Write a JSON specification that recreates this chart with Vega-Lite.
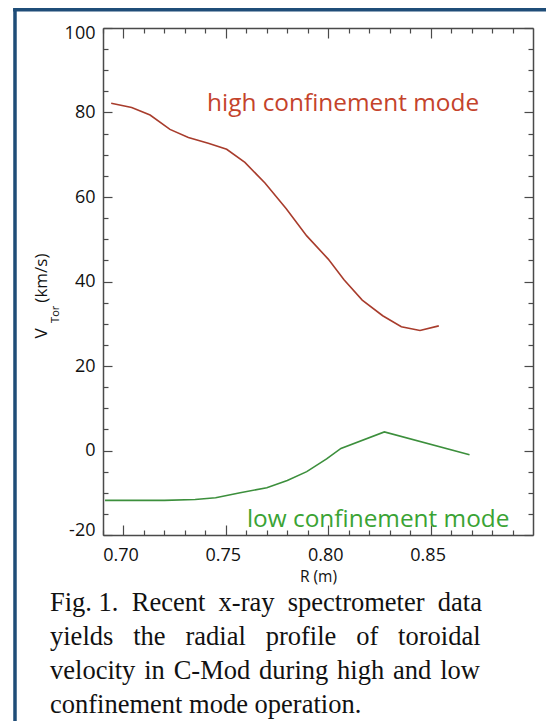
{
  "$schema": "https://vega.github.io/schema/vega-lite/v6.json",
  "width": 430,
  "height": 507,
  "autosize": {"type": "none"},
  "padding": {"left": 103, "top": 28, "right": 13, "bottom": 186},
  "background": "white",
  "config": {
    "view": {"stroke": null},
    "axis": {
      "grid": false,
      "labelFont": "Open Sans",
      "titleFont": "Open Sans",
      "domainColor": "#4a4a4a",
      "tickColor": "#4a4a4a",
      "domainWidth": 1.5,
      "tickWidth": 1.2,
      "labelColor": "#111111",
      "titleColor": "#111111",
      "titleFontWeight": "normal"
    }
  },
  "resolve": {"axis": {"x": "independent", "y": "independent"}},
  "layer": [
    {
      "data": {"values": [
        {"R": 0.694, "V": 82.2}, {"R": 0.704, "V": 81.2}, {"R": 0.713, "V": 79.4},
        {"R": 0.7227, "V": 76.0}, {"R": 0.7317, "V": 74.1}, {"R": 0.7414, "V": 72.7},
        {"R": 0.7504, "V": 71.3}, {"R": 0.7593, "V": 68.2}, {"R": 0.7691, "V": 63.3},
        {"R": 0.7795, "V": 57.2}, {"R": 0.7895, "V": 50.8}, {"R": 0.8, "V": 45.3},
        {"R": 0.8077, "V": 40.4}, {"R": 0.8166, "V": 35.6}, {"R": 0.8266, "V": 31.9},
        {"R": 0.8357, "V": 29.3}, {"R": 0.8448, "V": 28.4}, {"R": 0.854, "V": 29.5}
      ]},
      "mark": {"type": "line", "color": "#a83c2c", "strokeWidth": 1.6},
      "encoding": {
        "x": {"field": "R", "type": "quantitative", "scale": {"domain": [0.69, 0.9], "nice": false, "zero": false},
          "axis": {"orient": "bottom", "values": [0.7, 0.75, 0.8, 0.85], "format": ".2f", "tickSize": -10, "labelPadding": 21, "labelOffset": -3, "labelFontSize": 18, "labelFlush": false, "title": "R (m)", "titleFontSize": 15.5, "titlePadding": 5}},
        "y": {"field": "V", "type": "quantitative", "scale": {"domain": [-20, 100], "nice": false, "zero": false},
          "axis": {"orient": "left", "values": [-20, 0, 20, 40, 60, 80, 100], "labelExpr": "'' + datum.value", "tickSize": -9, "labelPadding": 17, "labelFontSize": 18, "labelFlush": true, "labelFlushOffset": 4, "title": null}}
      }
    },
    {
      "data": {"values": [
        {"R": 0.691, "V": -11.8}, {"R": 0.705, "V": -11.8}, {"R": 0.72, "V": -11.8},
        {"R": 0.735, "V": -11.6}, {"R": 0.745, "V": -11.2}, {"R": 0.757, "V": -10.0},
        {"R": 0.77, "V": -8.8}, {"R": 0.78, "V": -7.1}, {"R": 0.7895, "V": -5.0},
        {"R": 0.7992, "V": -2.0}, {"R": 0.8062, "V": 0.5}, {"R": 0.8274, "V": 4.4},
        {"R": 0.869, "V": -1.0}
      ]},
      "mark": {"type": "line", "color": "#3c8f3c", "strokeWidth": 1.6},
      "encoding": {
        "x": {"field": "R", "type": "quantitative", "scale": {"domain": [0.69, 0.9], "nice": false, "zero": false},
          "axis": {"orient": "bottom", "values": [0.69, 0.71, 0.72, 0.73, 0.74, 0.76, 0.77, 0.78, 0.79, 0.81, 0.82, 0.83, 0.84, 0.86, 0.87, 0.88, 0.89], "labels": false, "domain": false, "tickSize": -5, "title": null}},
        "y": {"field": "V", "type": "quantitative", "scale": {"domain": [-20, 100], "nice": false, "zero": false},
          "axis": {"orient": "left", "values": [-15, -10, -5, 5, 10, 15, 25, 30, 35, 45, 50, 55, 65, 70, 75, 85, 90, 95], "labels": false, "domain": false, "tickSize": -5, "title": null}}
      }
    },
    {
      "data": {"values": [{}]},
      "mark": {"type": "text", "text": "high confinement mode", "font": "Open Sans", "fontSize": 24.4, "color": "#c4432b", "align": "left", "baseline": "alphabetic"},
      "encoding": {
        "x": {"datum": 0.7408, "type": "quantitative", "scale": {"domain": [0.69, 0.9], "nice": false, "zero": false},
          "axis": {"orient": "top", "values": [0.7, 0.75, 0.8, 0.85], "labels": false, "domain": true, "tickSize": -10, "title": null}},
        "y": {"datum": 80.4, "type": "quantitative", "scale": {"domain": [-20, 100], "nice": false, "zero": false},
          "axis": {"orient": "right", "values": [-20, 0, 20, 40, 60, 80, 100], "labels": false, "domain": true, "tickSize": -9, "title": null}}
      }
    },
    {
      "data": {"values": [{}]},
      "mark": {"type": "text", "text": "low confinement mode", "font": "Open Sans", "fontSize": 24.4, "color": "#3aa334", "align": "left", "baseline": "alphabetic"},
      "encoding": {
        "x": {"datum": 0.7603, "type": "quantitative", "scale": {"domain": [0.69, 0.9], "nice": false, "zero": false},
          "axis": {"orient": "top", "values": [0.69, 0.71, 0.72, 0.73, 0.74, 0.76, 0.77, 0.78, 0.79, 0.81, 0.82, 0.83, 0.84, 0.86, 0.87, 0.88, 0.89], "labels": false, "domain": false, "tickSize": -5, "title": null}},
        "y": {"datum": -18.18, "type": "quantitative", "scale": {"domain": [-20, 100], "nice": false, "zero": false},
          "axis": {"orient": "right", "values": [-15, -10, -5, 5, 10, 15, 25, 30, 35, 45, 50, 55, 65, 70, 75, 85, 90, 95], "labels": false, "domain": false, "tickSize": -5, "title": null}}
      }
    },
    {
      "data": {"values": [{}]},
      "mark": {"type": "text", "text": "V", "font": "Open Sans", "fontSize": 17, "color": "#111111", "angle": 270, "align": "left", "baseline": "alphabetic"},
      "encoding": {
        "x": {"datum": 0.66265, "type": "quantitative", "scale": {"domain": [0.69, 0.9], "nice": false, "zero": false}, "axis": null},
        "y": {"datum": 26.51, "type": "quantitative", "scale": {"domain": [-20, 100], "nice": false, "zero": false}, "axis": null}
      }
    },
    {
      "data": {"values": [{}]},
      "mark": {"type": "text", "text": "Tor", "font": "Open Sans", "fontSize": 11, "color": "#111111", "angle": 270, "align": "left", "baseline": "alphabetic"},
      "encoding": {
        "x": {"datum": 0.66851, "type": "quantitative", "scale": {"domain": [0.69, 0.9], "nice": false, "zero": false}, "axis": null},
        "y": {"datum": 30.2, "type": "quantitative", "scale": {"domain": [-20, 100], "nice": false, "zero": false}, "axis": null}
      }
    },
    {
      "data": {"values": [{}]},
      "mark": {"type": "text", "text": "(km/s)", "font": "Open Sans", "fontSize": 17, "color": "#111111", "angle": 270, "align": "left", "baseline": "alphabetic"},
      "encoding": {
        "x": {"datum": 0.66265, "type": "quantitative", "scale": {"domain": [0.69, 0.9], "nice": false, "zero": false}, "axis": null},
        "y": {"datum": 35.0, "type": "quantitative", "scale": {"domain": [-20, 100], "nice": false, "zero": false}, "axis": null}
      }
    },
    {
      "data": {"values": [{}]},
      "mark": {"type": "rule", "color": "#1f4d78", "strokeWidth": 3.5},
      "encoding": {
        "x": {"datum": 0.64702, "type": "quantitative", "scale": {"domain": [0.69, 0.9], "nice": false, "zero": false}, "axis": null},
        "y": {"datum": 104.6, "type": "quantitative", "scale": {"domain": [-20, 100], "nice": false, "zero": false}, "axis": null},
        "y2": {"datum": -70}
      }
    },
    {
      "data": {"values": [{}]},
      "mark": {"type": "rule", "color": "#1f4d78", "strokeWidth": 3.5},
      "encoding": {
        "x": {"datum": 0.6461, "type": "quantitative", "scale": {"domain": [0.69, 0.9], "nice": false, "zero": false}, "axis": null},
        "x2": {"datum": 0.95},
        "y": {"datum": 104.3, "type": "quantitative", "scale": {"domain": [-20, 100], "nice": false, "zero": false}, "axis": null}
      }
    },
    {
      "data": {"values": [{}]},
      "mark": {"type": "text", "text": ["Fig. 1. \u2005Recent \u2005x-ray \u2005spectrometer \u2005data", "yields \u2002the \u2002radial \u2002profile \u2002of \u2002toroidal", "velocity \u200ain \u200aC-Mod \u200aduring \u200ahigh \u200aand \u200alow", "confinement mode operation."], "font": "Liberation Serif", "fontSize": 26.5, "lineHeight": 34, "color": "#111111", "align": "left", "baseline": "alphabetic"},
      "encoding": {
        "x": {"datum": 0.66412, "type": "quantitative", "scale": {"domain": [0.69, 0.9], "nice": false, "zero": false}, "axis": null},
        "y": {"datum": -37.9, "type": "quantitative", "scale": {"domain": [-20, 100], "nice": false, "zero": false}, "axis": null}
      }
    }
  ]
}
